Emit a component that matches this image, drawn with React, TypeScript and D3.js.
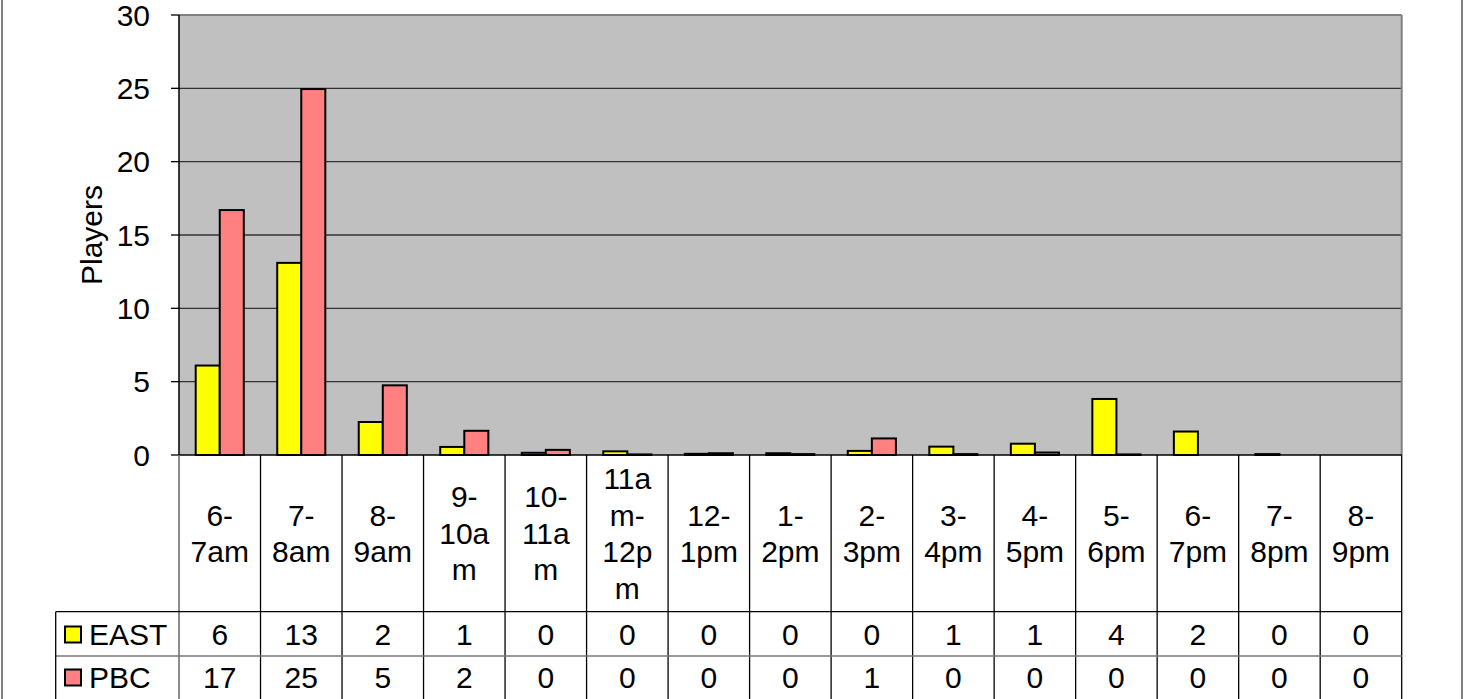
import React from "react";
import * as d3 from "d3";

const categories = ["6-7am", "7-8am", "8-9am", "9-10am", "10-11am", "11am-12pm", "12-1pm", "1-2pm", "2-3pm", "3-4pm", "4-5pm", "5-6pm", "6-7pm", "7-8pm", "8-9pm"];
const seriesNames = ["EAST", "PBC"];
const eastValues = [6.1, 13.1, 2.25, 0.55, 0.15, 0.25, 0.08, 0.12, 0.28, 0.57, 0.77, 3.82, 1.6, 0.06, 0];
const pbcValues = [16.7, 24.95, 4.75, 1.65, 0.35, 0.04, 0.12, 0.06, 1.13, 0.06, 0.17, 0.04, 0, 0, 0];
const eastTable = [6, 13, 2, 1, 0, 0, 0, 0, 0, 1, 1, 4, 2, 0, 0];
const pbcTable = [17, 25, 5, 2, 0, 0, 0, 0, 1, 0, 0, 0, 0, 0, 0];
const yTicks = [0, 5, 10, 15, 20, 25, 30];
const colors = ["#FFFF00", "#FF8080"];

const FONT = "'Liberation Sans', Arial, sans-serif";
const FS = 30;

function wrapLabel(label: string): string[] {
  const tokens = label.match(/[^-]+-?/g) || [label];
  const lines: string[] = [];
  tokens.forEach((t) => {
    for (let i = 0; i < t.length; i += 3) lines.push(t.slice(i, i + 3));
  });
  return lines;
}

export default function App() {
  const W = 1464, H = 699;
  const left = 179, right = 1401.7, top = 15, zeroY = 455;
  const rowTop1 = 611.7, rowTop2 = 656, tableBottom = 702;
  const legendLeft = 55.7;

  const x = d3.scaleBand<string>().domain(categories).range([left, right]).padding(0);
  const bw = x.bandwidth();
  const xs = d3.scaleBand<string>().domain(seriesNames).range([bw * 0.205, bw * 0.795]).padding(0);
  const y = d3.scaleLinear().domain([0, 30]).range([zeroY, top]);

  const allSeries = [eastValues, pbcValues];
  const tables = [eastTable, pbcTable];
  const rowCenters = [634.5, 677.5];
  const catCenter = 533;
  const lineH = 36.5;

  return (
    <svg width={W} height={H} style={{ position: "absolute", left: 0, top: 0, background: "#fff" }} fontFamily={FONT}>
      {/* outer chart border */}
      <line x1={2} x2={2} y1={0} y2={H} stroke="#808080" strokeWidth={2} />
      <line x1={1462} x2={1462} y1={0} y2={H} stroke="#808080" strokeWidth={2} />

      {/* plot area */}
      <rect x={left} y={top} width={right - left} height={zeroY - top} fill="#C0C0C0" />
      {yTicks.filter((t) => t > 0 && t < 30).map((t) => (
        <line key={t} x1={left} x2={right} y1={y(t)} y2={y(t)} stroke="#333" strokeWidth={1.4} />
      ))}
      <line x1={left} x2={right} y1={top} y2={top} stroke="#808080" strokeWidth={2} />
      <line x1={right} x2={right} y1={top} y2={zeroY} stroke="#808080" strokeWidth={2} />

      {/* bars */}
      {allSeries.map((vals, si) =>
        vals.map((v, i) => {
          const bx = (x(categories[i]) as number) + (xs(seriesNames[si]) as number);
          const h = zeroY - y(v);
          return (
            <rect key={si + "-" + i} x={bx} y={y(v)} width={xs.bandwidth()} height={h}
              fill={colors[si]} stroke="#000" strokeWidth={2} />
          );
        })
      )}

      {/* y axis */}
      <line x1={left} x2={left} y1={top} y2={zeroY} stroke="#000" strokeWidth={1.5} />
      {yTicks.map((t) => (
        <g key={t}>
          <line x1={left - 8} x2={left} y1={y(t)} y2={y(t)} stroke="#000" strokeWidth={1.3} />
          <text x={150} y={y(t)} dy="0.36em" textAnchor="end" fontSize={FS} fill="#000">{t}</text>
        </g>
      ))}
      <text transform={`translate(${102},${(top + zeroY) / 2}) rotate(-90)`} textAnchor="middle" fontSize={FS} fill="#000">Players</text>

      {/* x axis line */}
      <line x1={left} x2={right} y1={zeroY} y2={zeroY} stroke="#000" strokeWidth={1.5} />

      {/* data table */}
      <line x1={left} x2={left} y1={zeroY} y2={tableBottom} stroke="#666" strokeWidth={1.5} />
      {categories.map((c, i) => (
        <line key={"v" + i} x1={(x(c) as number) + bw} x2={(x(c) as number) + bw} y1={zeroY} y2={tableBottom}
          stroke="#000" strokeWidth={1.3} />
      ))}
      <line x1={legendLeft} x2={right} y1={rowTop1} y2={rowTop1} stroke="#000" strokeWidth={1.3} />
      <line x1={legendLeft} x2={right} y1={rowTop2} y2={rowTop2} stroke="#777" strokeWidth={1.3} />
      <line x1={legendLeft} x2={legendLeft} y1={rowTop1} y2={tableBottom} stroke="#000" strokeWidth={1.3} />

      {categories.map((c, i) => {
        const lines = wrapLabel(c);
        const cx = (x(c) as number) + bw / 2;
        const start = catCenter - ((lines.length - 1) * lineH) / 2;
        return (
          <text key={"c" + i} textAnchor="middle" fontSize={FS} fill="#000">
            {lines.map((l, li) => (
              <tspan key={li} x={cx} y={start + li * lineH} dy="0.36em">{l}</tspan>
            ))}
          </text>
        );
      })}

      {seriesNames.map((s, si) => (
        <g key={s}>
          <rect x={65} y={rowCenters[si] - 8} width={16} height={16} fill={colors[si]} stroke="#000" strokeWidth={2} />
          <text x={89} y={rowCenters[si]} dy="0.36em" fontSize={FS} fill="#000">{s}</text>
          {tables[si].map((v, i) => (
            <text key={i} x={(x(categories[i]) as number) + bw / 2} y={rowCenters[si]} dy="0.36em"
              textAnchor="middle" fontSize={FS} fill="#000">{v}</text>
          ))}
        </g>
      ))}
    </svg>
  );
}
